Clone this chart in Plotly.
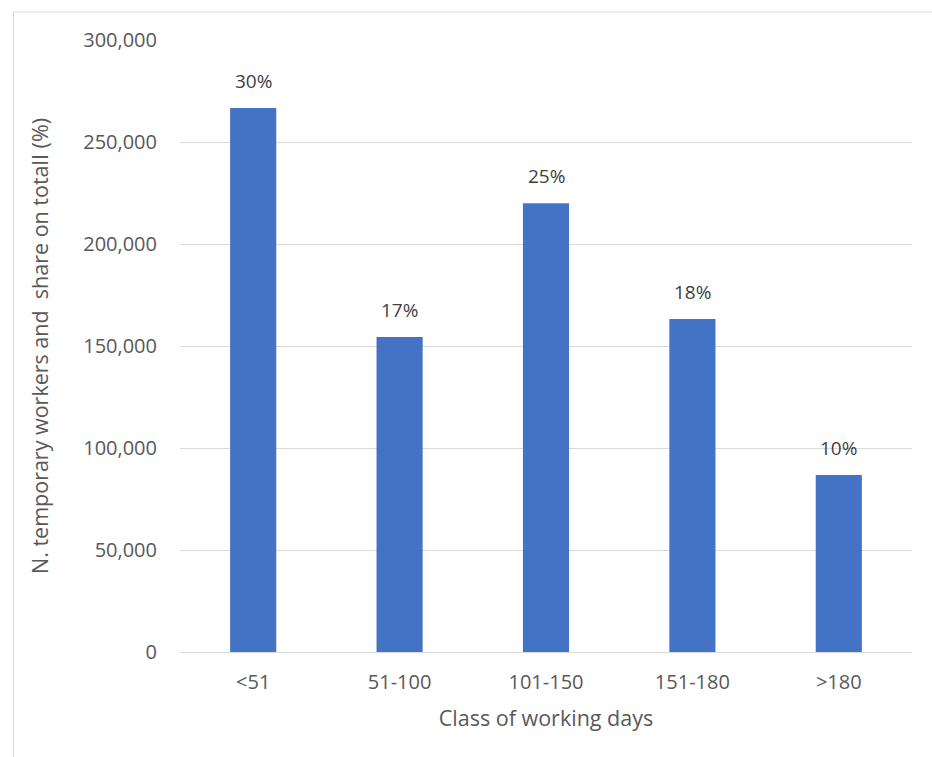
import plotly.graph_objects as go

# Workers by class of working days
categories = ["<51", "51-100", "101-150", "151-180", ">180"]
workers = [266700, 154400, 220000, 163200, 86800]
share_labels = ["30%", "17%", "25%", "18%", "10%"]
y_ticks = [0, 50000, 100000, 150000, 200000, 250000, 300000]

font_family = "Open Sans, Liberation Sans, sans-serif"
text_color = "#595959"

fig = go.Figure()
fig.add_trace(go.Bar(
    x=categories,
    y=workers,
    marker=dict(color="#4472C4", line=dict(width=0)),
    width=0.315,
    hoverinfo="x+y",
))

for cat, val, lab in zip(categories, workers, share_labels):
    fig.add_annotation(
        x=cat, y=val, text=lab, showarrow=False,
        yanchor="bottom", yshift=12,
        font=dict(family=font_family, size=19, color="#404040"),
    )

# Outer frame of the chart area (top and left edges)
frame = dict(color="#d9d9d9", width=1)
fig.add_shape(type="line", xref="paper", yref="paper",
              x0=-0.2275, x1=1.05, y0=1.0458, y1=1.0458, line=frame)
fig.add_shape(type="line", xref="paper", yref="paper",
              x0=-0.2275, x1=-0.2275, y0=-0.2, y1=1.0458, line=frame)

fig.update_layout(
    width=932, height=757,
    margin=dict(l=180, r=20, t=40, b=105),
    paper_bgcolor="white",
    plot_bgcolor="white",
    showlegend=False,
    font=dict(family=font_family, size=20, color=text_color),
    xaxis=dict(
        title=dict(text="Class of working days", standoff=16,
                   font=dict(size=21.5, color=text_color)),
        showgrid=False,
        showline=False,
        ticks="",
        ticklabelstandoff=16,
        tickfont=dict(size=20, color=text_color),
    ),
    yaxis=dict(
        title=dict(text="N. temporary workers and  share on totalI (%)",
                   standoff=28, font=dict(size=21.5, color=text_color)),
        range=[0, 300000],
        tickvals=y_ticks,
        tickformat=",d",
        showgrid=True,
        gridcolor="#d9d9d9",
        gridwidth=1,
        zeroline=True,
        zerolinecolor="#d9d9d9",
        zerolinewidth=1,
        showline=False,
        ticks="",
        ticklabelstandoff=22,
        tickfont=dict(size=20, color=text_color),
    ),
)

fig.write_html("out.html")
